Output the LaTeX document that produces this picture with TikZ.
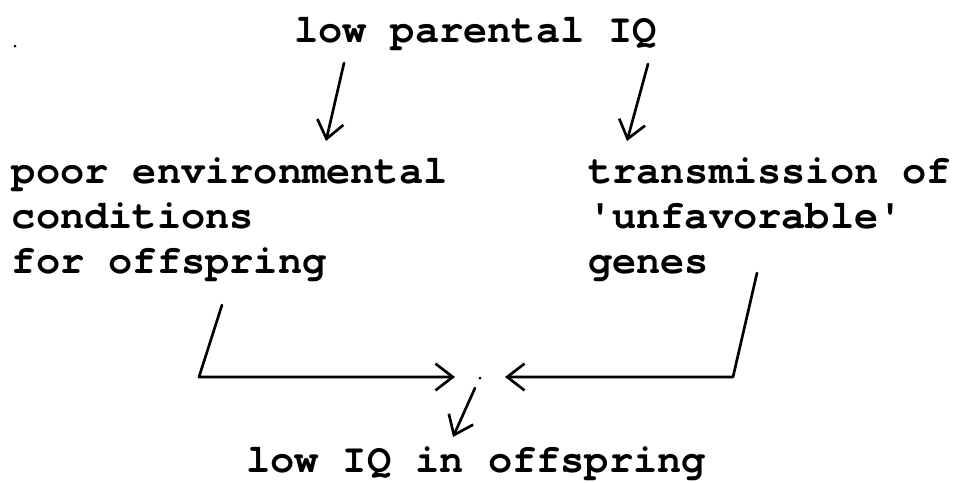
\documentclass[tikz,border=0pt]{standalone}
\usepackage{fontspec}
\setmonofont[Ligatures={NoCommon,NoRequired,NoContextual}]{TeX Gyre Cursor}
\usetikzlibrary{arrows.meta}
\tikzset{
  txt/.style={anchor=base west, inner sep=0pt, outer sep=0pt,
    font=\ttfamily\bfseries\fontsize{30.25pt}{34pt}\selectfont},
  conn/.style={line width=2pt, line cap=round, line join=round},
  arr/.style={conn, -{Straight Barb[length=13pt,width=20pt,line width=2pt]}}
}
\begin{document}
\begin{tikzpicture}[x=0.75pt,y=-0.75pt]
\useasboundingbox[fill=white] (0,0) rectangle (953,482);
% texts
\node[txt] (top) at (294,42) {low parental IQ};
\node[txt] (env1) at (12,183) {poor environmental};
\node[txt] (env2) at (12,228) {conditions};
\node[txt] (env3) at (12,273) {for offspring};
\node[txt] (gen1) at (588,183) {transmission of};
\node[txt] (gen2) at (588,228) {'unfavorable'};
\node[txt] (gen3) at (588,273) {genes};
\node[txt] (bot) at (246,472) {low IQ in offspring};
% connector points
\coordinate (a1s) at (344,63);
\coordinate (a1e) at (326,141);
\coordinate (a2s) at (648,64);
\coordinate (a2e) at (627,141);
\coordinate (ls) at (222,305);
\coordinate (lc) at (199,377);
\coordinate (le) at (455,377);
\coordinate (rs) at (757,273);
\coordinate (rc) at (733,377);
\coordinate (re) at (505,377);
\coordinate (mid) at (480,378);
\coordinate (ds) at (475,388);
\coordinate (de) at (453,437);
% connectors
\draw[arr] (a1s) -- (a1e);
\draw[arr] (a2s) -- (a2e);
\draw[arr] (ls) -- (lc) -- (le);
\draw[arr] (rs) -- (rc) -- (re);
\draw[arr] (ds) -- (de);
\fill (mid) circle[radius=1.5];
\fill (15,46) circle[radius=1.5];
\end{tikzpicture}
\end{document}
